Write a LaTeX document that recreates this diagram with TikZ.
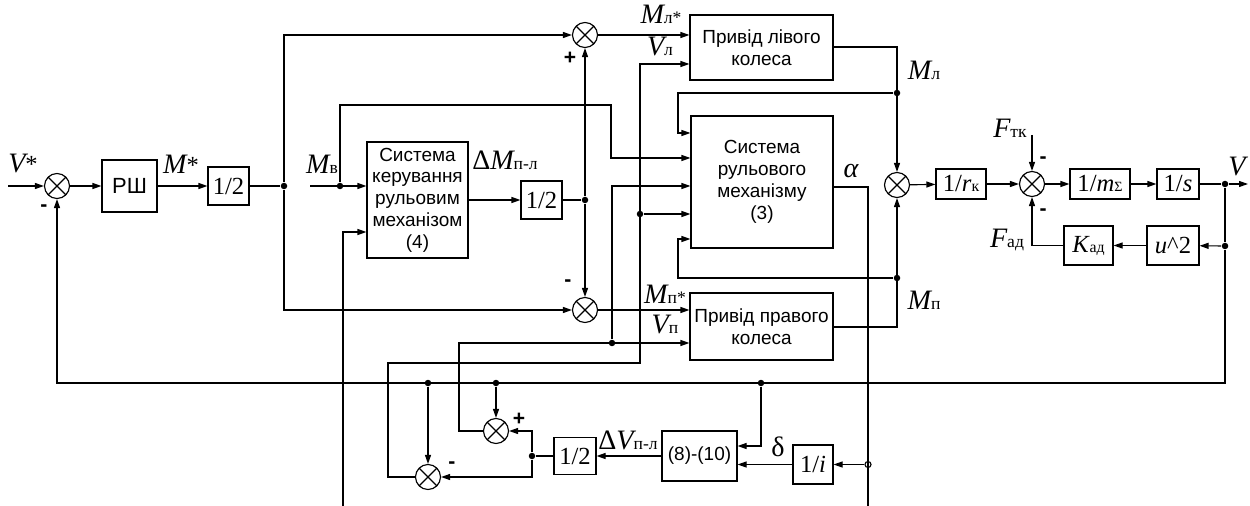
\documentclass[tikz,border=0pt]{standalone}
\usepackage{fontspec}
\setmainfont{Liberation Sans}
\newfontfamily\tms{Liberation Serif}
\usetikzlibrary{arrows.meta}

% signal names: italic letter + small upright index
\newcommand{\sgl}[2]{{\tms\fontsize{16}{16}\selectfont\itshape #1}{\tms\fontsize{10}{10}\selectfont #2}}
\newcommand{\gain}[1]{{\tms\fontsize{14}{14}\selectfont #1}}

\begin{document}
\begin{tikzpicture}[x=0.02cm, y=-0.02cm, line width=0.65pt,
    arr/.style={-{Triangle[length=1.8mm,width=1.2mm]}},
    block/.style={draw, rectangle, inner sep=0pt, align=center, font=\fontsize{10.8}{12.4}\selectfont},
    sumnode/.style={circle, draw, fill=white, minimum size=0.5cm, inner sep=0pt,
        path picture={\draw (path picture bounding box.center) +(45:0.25cm) -- +(225:0.25cm)
            (path picture bounding box.center) +(135:0.25cm) -- +(315:0.25cm);}},
    dot/.style={circle, fill, inner sep=0pt, minimum size=0.13cm},
    pick/.style={circle, draw, fill=white, inner sep=0pt, minimum size=0.12cm},
    sign/.style={font=\bfseries\fontsize{12}{12}\selectfont, inner sep=0pt},
    lbl/.style={inner sep=0pt}]
    \useasboundingbox (0,0) rectangle (1250,506);

    % Blocks
    \node[block, minimum width=1.1cm, minimum height=1.04cm, font=\fontsize{12.5}{14}\selectfont] (rsh) at (129.5,186) {РШ};
    \node[block, minimum width=0.82cm, minimum height=0.76cm] (half1) at (228.5,186) {\gain{1/2}};
    \node[block, minimum width=2.02cm, minimum height=2.32cm] (sk) at (417.5,200) {Система\\керування\\рульовим\\механізом\\(4)};
    \node[block, minimum width=0.82cm, minimum height=0.76cm] (half2) at (541.5,200) {\gain{1/2}};
    \node[block, minimum width=2.86cm, minimum height=1.3cm] (pl) at (761.5,47.5) {Привід лівого\\колеса};
    \node[block, minimum width=2.84cm, minimum height=2.64cm] (sr) at (762,182) {Система\\рульового\\механізму\\(3)};
    \node[block, minimum width=2.86cm, minimum height=1.34cm] (pp) at (761.5,326.5) {Привід правого\\колеса};
    \node[block, minimum width=1.0cm, minimum height=0.6cm] (rk) at (961,184) {\gain{1/\textit{r}}{\tms\fontsize{9}{9}\selectfont к}};
    \node[block, minimum width=1.2cm, minimum height=0.6cm] (ms) at (1100,184) {\gain{1/\textit{m}}{\tms\fontsize{8}{8}\selectfont Σ}};
    \node[block, minimum width=0.84cm, minimum height=0.6cm] (integ) at (1178,184) {\gain{1/\textit{s}}};
    \node[block, minimum width=1.04cm, minimum height=0.78cm] (u2) at (1173,245.5) {\gain{\textit{u}\^{}2}};
    \node[block, minimum width=0.98cm, minimum height=0.78cm] (kad) at (1088.5,245.5) {\gain{\textit{K}}{\tms\fontsize{9}{9}\selectfont ад}};
    \node[block, minimum width=1.5cm, minimum height=1.0cm] (eq) at (699.5,456) {(8)-(10)};
    \node[block, minimum width=0.8cm, minimum height=0.78cm] (inv) at (813,464.5) {\gain{1/\textit{i}}};
    \node[block, minimum width=0.84cm, minimum height=0.74cm] (half3) at (575,456) {\gain{1/2}};

    % Summing points
    \node[sumnode] (s1) at (57,186) {};
    \node[sumnode] (s2) at (585,35) {};
    \node[sumnode] (s3) at (585,310) {};
    \node[sumnode] (s4) at (496,431) {};
    \node[sumnode] (s5) at (428,477) {};
    \node[sumnode] (s6) at (897,185) {};
    \node[sumnode] (s7) at (1032,184) {};

    % Junctions and free ends
    \node[dot] (j1) at (284,186) {};
    \node[dot] (jm) at (340,186) {};
    \node[dot] (j2) at (585,200) {};
    \node[dot] (jml) at (897,93) {};
    \node[dot] (jmp) at (897,278) {};
    \node[dot] (jvl) at (640,214) {};
    \node[dot] (jvp) at (612,343) {};
    \node[dot] (jV) at (1225,184) {};
    \node[dot] (jU) at (1225,246) {};
    \node[dot] (j5) at (428,383) {};
    \node[dot] (j6) at (496,383) {};
    \node[dot] (j7) at (761,383) {};
    \node[dot] (j4) at (532,456) {};
    \node[pick] (pa) at (868,464.5) {};
    \coordinate (vin) at (8,186);
    \coordinate (mvin) at (310,186);
    \coordinate (vout) at (1248,184);
    \coordinate (ftk) at (1032,135);
    \coordinate (abot) at (868,506);
    \coordinate (fbot) at (343,506);

    % Speed loop
    \draw[arr] (vin) -- (s1);
    \draw[arr] (s1) -- (rsh);
    \draw[arr] (rsh) -- (half1);
    \draw (half1) -- (j1);
    \draw[arr] (j1) |- (s2);
    \draw[arr] (j1) |- (s3);
    \draw[arr] (s2) -- (s2 -| pl.west);
    \draw[arr] (s3) -- (s3 -| pp.west);

    % Steering control
    \draw[arr] (mvin) -- (mvin -| sk.west);
    \draw[arr] (jm) -- (340,105) -- (611,105) -- (611,158) -- (sr.west |- 0,158);
    \draw[arr] (fbot) |- (sk.west |- 0,232);
    \draw[arr] (sk.east |- half2) -- (half2);
    \draw (half2) -- (j2);
    \draw[arr] (j2) -- (s2);
    \draw[arr] (j2) -- (s3);

    % Wheel drives and steering mechanism
    \draw[arr] (pl.east |- 0,47) -| (s6);
    \draw[arr] (pp.east |- 0,327) -| (s6);
    \draw[arr] (jml) -- (678,93) |- (sr.west |- 0,133);
    \draw[arr] (jmp) -- (678,278) |- (sr.west |- 0,239);
    \draw (sr.east |- 0,187) -- (868,187) -- (abot);
    \draw[arr] (jvl) -- (sr.west |- jvl);
    \draw[arr] (jvp) |- (sr.west |- 0,186);

    % Vehicle dynamics
    \draw[arr] (s6) -- (rk);
    \draw[arr] (rk) -- (s7);
    \draw[arr] (s7) -- (ms);
    \draw[arr] (ms) -- (integ);
    \draw (integ) -- (jV);
    \draw[arr] (jV) -- (vout);
    \draw[arr] (ftk) -- (s7);
    \draw (jV) -- (jU);
    \draw[arr] (jU) -- (u2);
    \draw[arr] (u2) -- (kad);
    \draw[arr] (kad) -| (s7);

    % Feedback and wheel speed split
    \draw[arr] (jU) -- (1225,383) -| (s1);
    \draw[arr] (j5) -- (s5);
    \draw[arr] (j6) -- (s4);
    \draw[arr] (j7) |- (eq.east |- 0,446);
    \draw[arr] (pa) -- (inv);
    \draw[arr] (inv) -- (inv -| eq.east);
    \draw[arr] (eq) -- (half3);
    \draw (half3) -- (j4);
    \draw[arr] (j4) |- (s4);
    \draw[arr] (j4) |- (s5);
    \draw[arr] (s4) -| (459,343) -- (pp.west |- 0,343);
    \draw[arr] (s5) -| (388,363) -| (640,64) -- (pl.west |- 0,64);

    % Signal labels
    \node[lbl] (lvs) at (23,164) {\sgl{V}{\fontsize{14}{14}\selectfont*}};
    \node[lbl] (lms) at (181,164) {\sgl{M}{\fontsize{14}{14}\selectfont*}};
    \node[lbl] (lmv) at (322,164) {\sgl{M}{в}};
    \node[lbl] (ldm) at (505,160) {{\tms\fontsize{16}{16}\selectfont Δ}\sgl{M}{п-л}};
    \node[lbl] (lml) at (661,14) {\sgl{M}{л*}};
    \node[lbl] (lvl) at (660,47) {\sgl{V}{л}};
    \node[lbl] (lmp) at (665,294) {\sgl{M}{п*}};
    \node[lbl] (lvp) at (665,325) {\sgl{V}{п}};
    \node[lbl] (lal) at (851,171) {{\tms\fontsize{16}{16}\selectfont\itshape α}};
    \node[lbl] (lmlo) at (924,70) {\sgl{M}{л}};
    \node[lbl] (lmpo) at (924,300) {\sgl{M}{п}};
    \node[lbl] (lftk) at (1010,128) {\sgl{F}{тк}};
    \node[lbl] (lfad) at (1007,240) {\sgl{F}{ад}};
    \node[lbl] (lv) at (1237,167) {\sgl{V}{}};
    \node[lbl] (ldv) at (628,440) {{\tms\fontsize{16}{16}\selectfont Δ}\sgl{V}{п-л}};
    \node[lbl] (ld) at (778,447) {{\tms\fontsize{16}{16}\selectfont δ}};

    % Signs
    \node[sign] (g1) at (44,208) {-};
    \node[sign] (g2) at (570,58) {+};
    \node[sign] (g3) at (568,283) {-};
    \node[sign] (g4) at (1043,160) {-};
    \node[sign] (g5) at (1043,212) {-};
    \node[sign] (g6) at (519,419) {+};
    \node[sign] (g7) at (452,465) {-};
\end{tikzpicture}
\end{document}
